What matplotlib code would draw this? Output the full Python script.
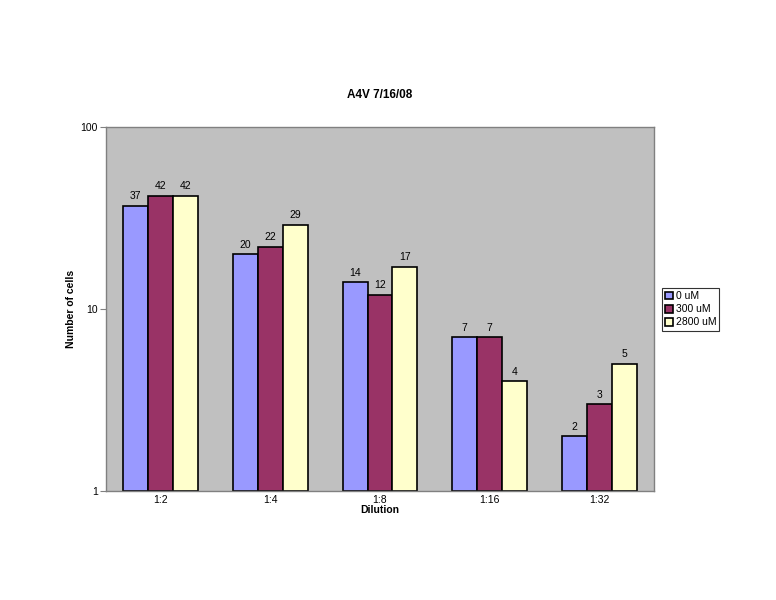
import numpy as np
import matplotlib
matplotlib.use('Agg')
import matplotlib.pyplot as plt
from matplotlib.ticker import FixedLocator, NullLocator, FixedFormatter

# data
dilutions = ['1:2', '1:4', '1:8', '1:16', '1:32']
series_names = ['0 uM', '300 uM', '2800 uM']
cells_0uM = [37, 20, 14, 7, 2]
cells_300uM = [42, 22, 12, 7, 3]
cells_2800uM = [42, 29, 17, 4, 5]
colors = ['#9999FF', '#993366', '#FFFFCC']

plt.rcParams['font.family'] = ['Liberation Sans', 'DejaVu Sans']

fig = plt.figure(figsize=(7.76, 6), dpi=100)
ax = fig.add_axes([106 / 776, 1 - 491 / 600, 548 / 776, 364 / 600])
ax.set_facecolor('#C0C0C0')

x = np.arange(len(dilutions))
width = 0.228
all_series = [cells_0uM, cells_300uM, cells_2800uM]
for i, (vals, name, col) in enumerate(zip(all_series, series_names, colors)):
    pos = x + (i - 1) * width
    # log axis starts at 1, so bars grow from 1 up to the value
    ax.bar(pos, np.array(vals) - 1, width, bottom=1, color=col,
           edgecolor='black', linewidth=1.2, label=name)
    for px, v in zip(pos, vals):
        ax.text(px, v * 1.06, str(v), ha='center', va='bottom', fontsize=7.5)

ax.set_yscale('log')
ax.set_ylim(1, 100)
ax.set_xlim(-0.5, len(dilutions) - 0.5)
ax.yaxis.set_major_locator(FixedLocator([1, 10, 100]))
ax.yaxis.set_major_formatter(FixedFormatter(['1', '10', '100']))
ax.yaxis.set_minor_locator(NullLocator())
ax.set_xticks(x)
ax.set_xticklabels(dilutions)
ax.tick_params(axis='x', length=0, labelsize=7.5, pad=3)
ax.tick_params(axis='y', length=4, labelsize=7.5, color='#808080', pad=2)

for s in ax.spines.values():
    s.set_color('#808080')
    s.set_linewidth(1)

ax.set_xlabel('Dilution', fontsize=7.5, fontweight='bold', labelpad=0)
ax.set_ylabel('Number of cells', fontsize=7.5, fontweight='bold', labelpad=3)
fig.text(380 / 776, 1 - 95 / 600, 'A4V 7/16/08', ha='center', va='center',
         fontsize=8.5, fontweight='bold')

leg = fig.legend(loc='upper left',
                 bbox_to_anchor=(662 / 776, 1 - 288 / 600), fontsize=7.5,
                 frameon=True, fancybox=False, edgecolor='black',
                 handlelength=0.8, handleheight=0.8, handletextpad=0.2,
                 borderpad=0.3, labelspacing=0.3, borderaxespad=0)
leg.get_frame().set_linewidth(0.8)

fig.savefig('out.png', dpi=100)
